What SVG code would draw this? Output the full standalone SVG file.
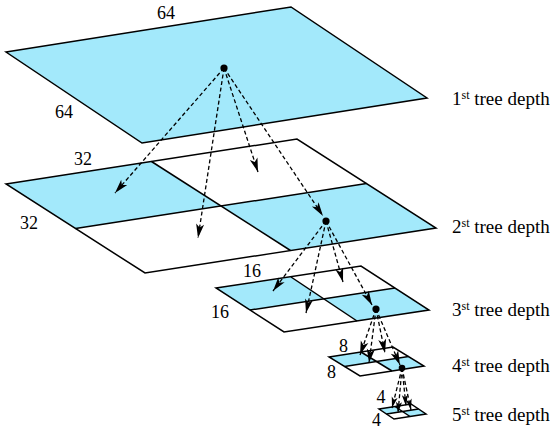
<svg xmlns="http://www.w3.org/2000/svg" width="552" height="432" viewBox="0 0 552 432">
<style>
.fill{fill:#a3e9fb;stroke:none}
.edge{fill:none;stroke:#000;stroke-width:1.5;stroke-linejoin:miter}
.dash{fill:none;stroke:#000;stroke-width:1.3;stroke-dasharray:4 2.6}
text{font-family:"Liberation Serif","DejaVu Serif",serif;fill:#000}
.lbl{font-size:18px}
.dep{font-size:19px}
.sup{font-size:12px}
</style>
<defs>
<marker id="ah" markerUnits="userSpaceOnUse" markerWidth="16" markerHeight="9" refX="14" refY="4" orient="auto" overflow="visible">
<path d="M0,0 L14,4 L0,8 L3.5,4 z" fill="#000"/>
</marker>
<marker id="ahs" markerUnits="userSpaceOnUse" markerWidth="12" markerHeight="7" refX="11" refY="3" orient="auto" overflow="visible">
<path d="M0,0 L11,3 L0,6 L2.5,3 z" fill="#000"/>
</marker>
</defs>
<rect width="552" height="432" fill="#fff"/>

<g id="level1">
<polygon class="fill" points="6,52 291,7 427,98 142,143"/>
<polygon class="edge" points="6,52 291,7 427,98 142,143"/>
<text class="lbl" x="166" y="19" text-anchor="middle">64</text>
<text class="lbl" x="64" y="118" text-anchor="middle">64</text>
<text class="dep" x="452" y="105">1<tspan class="sup" dy="-6.5">st</tspan><tspan dy="6.5"> tree depth</tspan></text>
</g>

<g id="level2">
<polygon class="fill" points="6,184 151.5,161.5 221,206 75.5,228.5"/>
<polygon class="fill" points="221,206 366.5,183.5 436,228 290.5,250.5"/>
<polygon class="edge" points="6,184 297,139 436,228 145,273"/>
<line class="edge" x1="151.5" y1="161.5" x2="290.5" y2="250.5"/>
<line class="edge" x1="75.5" y1="228.5" x2="366.5" y2="183.5"/>
<text class="lbl" x="83" y="165" text-anchor="middle">32</text>
<text class="lbl" x="29" y="229" text-anchor="middle">32</text>
<text class="dep" x="452" y="233">2<tspan class="sup" dy="-6.5">st</tspan><tspan dy="6.5"> tree depth</tspan></text>
</g>

<g id="level3">
<polygon class="fill" points="216,288 291,277 323.7,298.8 250,310"/>
<polygon class="fill" points="323.7,298.8 395,288 429,310 357,321"/>
<polygon class="edge" points="216,288 361,266 429,310 284,332"/>
<line class="edge" x1="291" y1="277" x2="357" y2="321"/>
<line class="edge" x1="250" y1="310" x2="395" y2="288"/>
<text class="lbl" x="252" y="277" text-anchor="middle">16</text>
<text class="lbl" x="220" y="318" text-anchor="middle">16</text>
<text class="dep" x="452" y="316">3<tspan class="sup" dy="-6.5">st</tspan><tspan dy="6.5"> tree depth</tspan></text>
</g>

<g id="level4">
<polygon class="fill" points="329,357 361,352 376.5,361.5 344.5,366.5"/>
<polygon class="fill" points="376.5,361.5 408.5,356.5 424,366 392,371"/>
<polygon class="edge" points="329,357 393,347 424,366 360,376"/>
<line class="edge" x1="361" y1="352" x2="392" y2="371"/>
<line class="edge" x1="344.5" y1="366.5" x2="408.5" y2="356.5"/>
<text class="lbl" x="343.5" y="352" text-anchor="middle">8</text>
<text class="lbl" x="331.5" y="378" text-anchor="middle">8</text>
<text class="dep" x="452" y="372">4<tspan class="sup" dy="-6.5">st</tspan><tspan dy="6.5"> tree depth</tspan></text>
</g>

<g id="level5">
<polygon class="fill" points="379,409 395,406.5 402.5,411.5 386.5,414"/>
<polygon class="fill" points="402.5,411.5 418.5,409 426,414 410,416.5"/>
<polygon class="edge" points="379,409 411,404 426,414 394,419"/>
<line class="edge" x1="395" y1="406.5" x2="410" y2="416.5"/>
<line class="edge" x1="386.5" y1="414" x2="418.5" y2="409"/>
<text class="lbl" x="381" y="403" text-anchor="middle">4</text>
<text class="lbl" x="376.5" y="426" text-anchor="middle">4</text>
<text class="dep" x="452" y="421">5<tspan class="sup" dy="-6.5">st</tspan><tspan dy="6.5"> tree depth</tspan></text>
</g>

<g id="connectors">
<line class="dash" x1="224" y1="68" x2="115" y2="193" marker-end="url(#ah)"/>
<line class="dash" x1="224" y1="68" x2="198" y2="238" marker-end="url(#ah)"/>
<line class="dash" x1="224" y1="68" x2="258" y2="172" marker-end="url(#ah)"/>
<line class="dash" x1="224" y1="68" x2="323" y2="216" marker-end="url(#ah)"/>
<line class="dash" x1="326" y1="221" x2="273" y2="291" marker-end="url(#ah)"/>
<line class="dash" x1="326" y1="221" x2="306" y2="313" marker-end="url(#ah)"/>
<line class="dash" x1="326" y1="221" x2="343" y2="282" marker-end="url(#ah)"/>
<line class="dash" x1="326" y1="221" x2="372" y2="305" marker-end="url(#ah)"/>
<line class="dash" x1="376" y1="309" x2="360" y2="355" marker-end="url(#ah)"/>
<line class="dash" x1="376" y1="309" x2="369" y2="363" marker-end="url(#ah)"/>
<line class="dash" x1="376" y1="309" x2="385" y2="353" marker-end="url(#ah)"/>
<line class="dash" x1="376" y1="309" x2="400" y2="365" marker-end="url(#ah)"/>
<line class="dash" x1="402" y1="368" x2="392" y2="408" marker-end="url(#ahs)"/>
<line class="dash" x1="402" y1="368" x2="398" y2="413" marker-end="url(#ahs)"/>
<line class="dash" x1="402" y1="368" x2="406" y2="406" marker-end="url(#ahs)"/>
<line class="dash" x1="402" y1="368" x2="411" y2="410" marker-end="url(#ahs)"/>
</g>

<g id="dots">
<circle cx="224" cy="68" r="3.6" fill="#000"/>
<circle cx="326" cy="221" r="3.6" fill="#000"/>
<circle cx="376" cy="309" r="3.6" fill="#000"/>
<circle cx="402" cy="368" r="3.3" fill="#000"/>
</g>
</svg>
